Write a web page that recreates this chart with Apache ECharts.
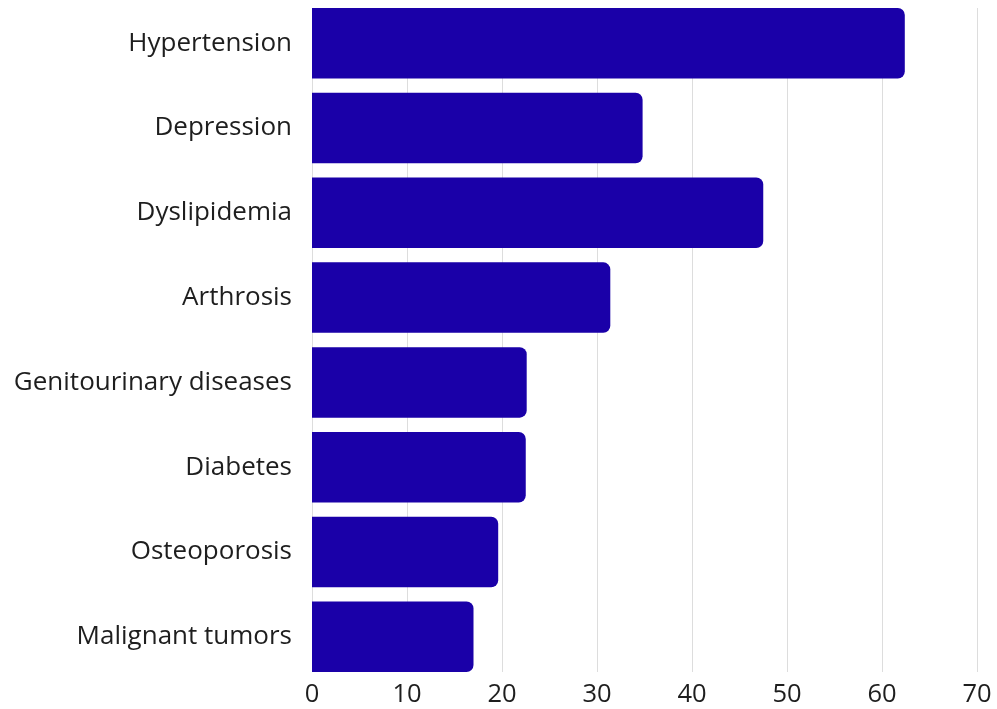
<!DOCTYPE html>
<html><head><meta charset="utf-8">
<script src="https://cdn.jsdelivr.net/npm/echarts@6/dist/echarts.min.js"></script>
<style>html,body{margin:0;padding:0;background:#fff}#c{width:997px;height:709px}</style>
</head><body><div id="c"></div>
<script>
const categories = ["Hypertension","Depression","Dyslipidemia","Arthrosis","Genitourinary diseases","Diabetes","Osteoporosis","Malignant tumors"];
const values = [62.4, 34.8, 47.5, 31.4, 22.6, 22.5, 19.6, 17.0];
const xTicks = [0,10,20,30,40,50,60,70];

const chart = echarts.init(document.getElementById('c'), null, {renderer:'canvas'});
const font = '"Open Sans", "Noto Sans", sans-serif';
const gapPx = 14.3;
chart.setOption({
  animation:false,
  grid:[
    {left:312, right:20, top:8 - gapPx/2, bottom:709-672-gapPx/2},
    {left:312, right:20, top:8, bottom:709-672}
  ],
  xAxis:[
    {type:'value', gridIndex:0, min:0, max:70, interval:10, axisLine:{show:false}, axisTick:{show:false}, axisLabel:{show:false}, splitLine:{show:false}},
    {type:'value', gridIndex:1, min:xTicks[0], max:xTicks[xTicks.length-1], interval:10, axisLine:{show:false}, axisTick:{show:false},
      axisLabel:{color:'#1e1e1e', fontSize:25.5, fontFamily:font, margin:10},
      splitLine:{show:true, lineStyle:{color:'#dddddd', width:1}}}
  ],
  yAxis:[
    {type:'category', gridIndex:0, data:categories, inverse:true, axisLine:{show:false}, axisTick:{show:false},
      axisLabel:{color:'#1e1e1e', fontSize:26, fontFamily:font, margin:20}},
    {type:'value', gridIndex:1, min:0, max:1, show:false}
  ],
  series:[{
    type:'bar', xAxisIndex:0, yAxisIndex:0, data:values, barCategoryGap:(gapPx/85*100)+'%',
    itemStyle:{color:'#1a00a8', borderRadius:[0,7,7,0]}, z:3
  }]
});
</script></body></html>
